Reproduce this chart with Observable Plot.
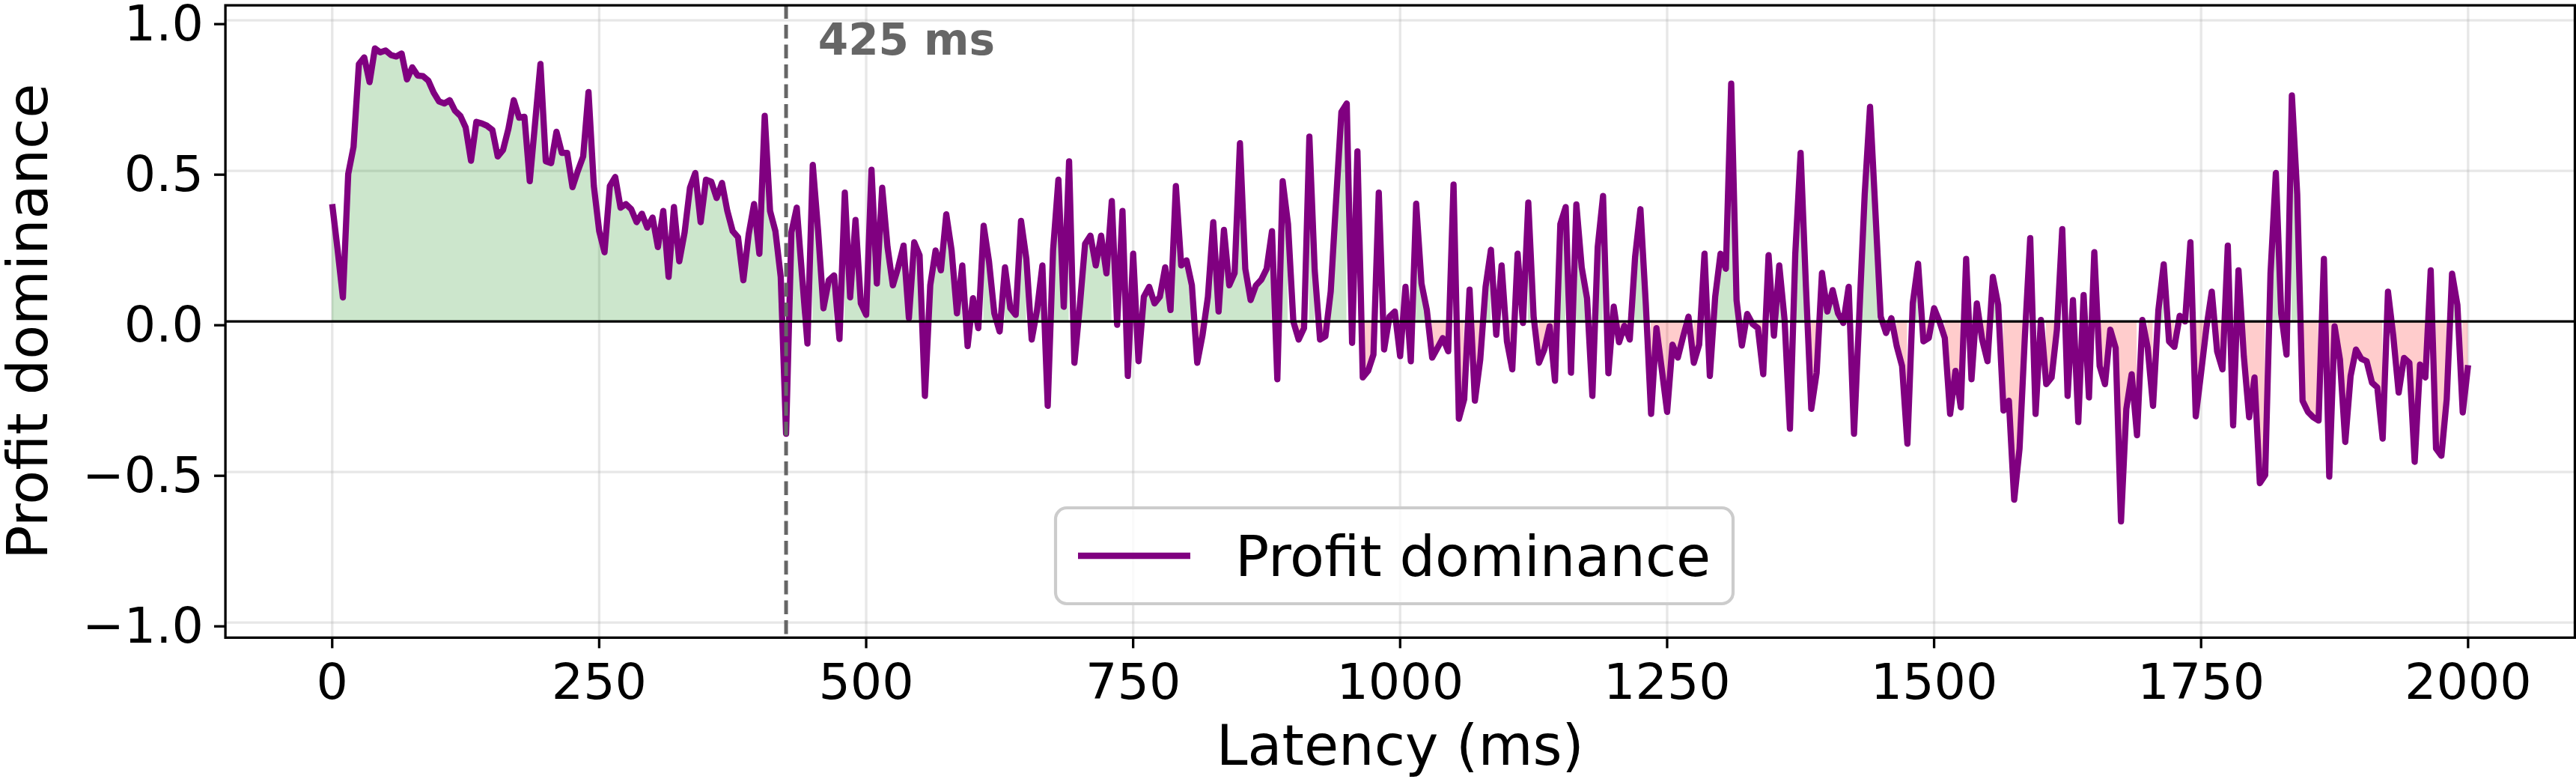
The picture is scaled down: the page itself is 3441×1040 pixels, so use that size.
<!DOCTYPE html>
<html>
<head>
<meta charset="utf-8">
<script src="https://cdn.jsdelivr.net/npm/d3@7"></script>
<script src="https://cdn.jsdelivr.net/npm/@observablehq/plot@0.6"></script>
<style>
  html, body { margin: 0; padding: 0; background: #ffffff; }
  #chart { width: 3441px; height: 1040px; position: relative; }
</style>
</head>
<body>
<div id="chart"></div>
<script>
// ---------------- data ----------------
const latencyStart = 0;
const latencyEnd = 2000;
const latencyStep = 5;
const dominance = [
  0.39, 0.24, 0.08, 0.49, 0.58, 0.855, 0.877, 0.795, 0.907, 0.894,
  0.90, 0.885, 0.88, 0.89, 0.804, 0.844, 0.817, 0.815, 0.80, 0.76,
  0.731, 0.724, 0.735, 0.70, 0.683, 0.644, 0.534, 0.663, 0.658, 0.65,
  0.636, 0.548, 0.57, 0.64, 0.735, 0.677, 0.68, 0.466, 0.66, 0.855,
  0.532, 0.526, 0.63, 0.56, 0.56, 0.446, 0.50, 0.548, 0.762, 0.45,
  0.30, 0.23, 0.45, 0.48, 0.378, 0.39, 0.373, 0.33, 0.358, 0.312,
  0.345, 0.247, 0.367, 0.148, 0.38, 0.20, 0.296, 0.444, 0.493, 0.33,
  0.471, 0.464, 0.41, 0.46, 0.367, 0.30, 0.28, 0.137, 0.29, 0.39,
  0.225, 0.683, 0.367, 0.30, 0.148, -0.373, 0.296, 0.378, 0.15, -0.073,
  0.52, 0.30, 0.044, 0.137, 0.153, -0.058, 0.428, 0.08, 0.337, 0.06,
  0.022, 0.504, 0.126, 0.444, 0.247, 0.12, 0.18, 0.252, 0.011, 0.263,
  0.22, -0.247, 0.12, 0.236, 0.17, 0.356, 0.236, 0.027, 0.186, -0.082,
  0.077, -0.022, 0.318, 0.20, 0.027, -0.033, 0.18, 0.044, 0.022, 0.334,
  0.208, -0.06, 0.038, 0.186, -0.28, 0.236, 0.471, 0.049, 0.532, -0.137,
  0.05, 0.258, 0.285, 0.186, 0.285, 0.16, 0.40, -0.011, 0.367, -0.181,
  0.225, -0.132, 0.082, 0.115, 0.06, 0.082, 0.18, 0.038, 0.45, 0.186,
  0.203, 0.12, -0.137, -0.044, 0.082, 0.33, 0.033, 0.304, 0.12, 0.161,
  0.592, 0.175, 0.071, 0.12, 0.139, 0.175, 0.30, -0.192, 0.466, 0.323,
  0.0, -0.06, -0.022, 0.614, 0.17, -0.06, -0.049, 0.1, 0.4, 0.696,
  0.724, -0.071, 0.565, -0.186, -0.164, -0.11, 0.428, -0.093, 0.016, 0.033,
  -0.115, 0.115, -0.132, 0.391, 0.126, 0.038, -0.12, -0.088, -0.055, -0.099,
  0.455, -0.323, -0.258, 0.106, -0.263, -0.126, 0.115, 0.238, -0.044, 0.186,
  -0.066, -0.159, 0.225, -0.005, 0.395, 0.016, -0.137, -0.093, -0.016, -0.197,
  0.323, 0.38, -0.17, 0.389, 0.18, 0.077, -0.247, 0.247, 0.417, -0.172,
  0.049, -0.069, -0.014, -0.06, 0.214, 0.373, 0.06, -0.307, -0.022, -0.159,
  -0.30, -0.077, -0.12, -0.05, 0.016, -0.137, -0.077, 0.225, -0.181, 0.082,
  0.225, 0.175, 0.79, 0.071, -0.08, 0.025, -0.008, -0.022, -0.175, 0.22,
  -0.047, 0.186, 0.005, -0.356, 0.225, 0.56, 0.115, -0.29, -0.17, 0.161,
  0.033, 0.104, 0.027, -0.005, 0.115, -0.373, 0.027, 0.422, 0.713, 0.367,
  0.016, -0.038, 0.011, -0.082, -0.148, -0.406, 0.06, 0.192, -0.066, -0.055,
  0.044, 0.0, -0.055, -0.307, -0.164, -0.285, 0.208, -0.192, 0.06, -0.06,
  -0.132, 0.148, 0.055, -0.296, -0.263, -0.592, -0.422, -0.049, 0.277, -0.307,
  0.005, -0.208, -0.186, -0.027, 0.307, -0.247, 0.071, -0.334, 0.088, -0.252,
  0.23, -0.148, -0.208, -0.027, -0.088, -0.664, -0.29, -0.175, -0.378, 0.005,
  -0.088, -0.28, 0.038, 0.19, -0.066, -0.084, 0.019, 0.0, 0.263, -0.315,
  -0.17, -0.02, 0.099, -0.099, -0.159, 0.252, -0.345, 0.17, -0.115, -0.318,
  -0.186, -0.537, -0.51, 0.159, 0.493, 0.027, -0.11, 0.751, 0.422, -0.263,
  -0.30, -0.318, -0.329, 0.208, -0.515, -0.016, -0.126, -0.40, -0.181, -0.093,
  -0.124, -0.132, -0.203, -0.219, -0.389, 0.099, -0.05, -0.236, -0.121, -0.137,
  -0.466, -0.143, -0.186, 0.17, -0.422, -0.446, -0.258, 0.159, 0.055, -0.302,
  -0.145
];
const xTicks = [0, 250, 500, 750, 1000, 1250, 1500, 1750, 2000];
const yTicks = [-1.0, -0.5, 0.0, 0.5, 1.0];
const thresholds = [425];
const seriesName = "Profit dominance";
const xLabel = "Latency (ms)";
const yLabel = "Profit dominance";

// ---------------- build table ----------------
const latencies = d3.range(latencyStart, latencyEnd + 1, latencyStep);
const table = latencies.map((ms, i) => ({ latency: ms, value: dominance[i] }));

// ---------------- layout ----------------
const W = 3441, H = 1040;
const mL = 300.6, mR = 2, mT = 6.6, mB = 189.2;
const FS = 66.7;         // tick labels (16pt @300dpi)
const LFS = 75;          // axis labels + legend (18pt @300dpi)
const LW = 8.3;
const AXW = 3.3;
const PURPLE = "#800080";

const chart = Plot.plot({
  width: W,
  height: H,
  marginLeft: mL,
  marginRight: mR,
  marginTop: mT,
  marginBottom: mB,
  style: { fontFamily: "'DejaVu Sans', sans-serif", fontSize: FS + "px", background: "#ffffff", color: "#000000", overflow: "visible" },
  x: { domain: [-100, 2100], label: null },
  y: { domain: [-1.05, 1.05], label: null },
  marks: [
    Plot.gridX(xTicks, { stroke: "#b0b0b0", strokeOpacity: 0.3, strokeWidth: AXW }),
    Plot.gridY(yTicks, { stroke: "#b0b0b0", strokeOpacity: 0.3, strokeWidth: AXW }),
    Plot.areaY(table, { x: "latency", y1: 0, y2: d => d.value > 0 ? d.value : NaN, fill: "green", fillOpacity: 0.2 }),
    Plot.areaY(table, { x: "latency", y1: 0, y2: d => d.value < 0 ? d.value : NaN, fill: "red", fillOpacity: 0.2 }),
    Plot.lineY(table, { x: "latency", y: "value", stroke: PURPLE, strokeWidth: LW, strokeLinejoin: "round", strokeLinecap: "butt" }),
    Plot.ruleY([0], { stroke: "#000000", strokeWidth: AXW }),
    Plot.ruleX(thresholds, { stroke: "#666666", strokeWidth: 5, strokeDasharray: "18.5,8" }),
    Plot.text(thresholds, {
      x: d => d, frameAnchor: "top", text: d => `${d} ms`,
      dx: 42.8, dy: 66, textAnchor: "start", lineAnchor: "bottom",
      fill: "#666666", fontWeight: "bold", fontSize: 58
    }),
    Plot.frame({ stroke: "#000000", strokeWidth: AXW }),
    Plot.axisX(xTicks, { tickSize: 14.6, tickPadding: 20, tickFormat: d3.format("d"), fontSize: FS, strokeWidth: AXW, label: null }),
    Plot.axisY(yTicks, { tickSize: 14.6, tickPadding: 14.6, tickFormat: d3.format(".1f"), fontSize: FS, strokeWidth: AXW, label: null, dy: 5 }),
    Plot.text([xLabel], { frameAnchor: "bottom", dy: 169.2, lineAnchor: "bottom", textAnchor: "middle", fontSize: LFS }),
    Plot.text([yLabel], { frameAnchor: "left", dx: -238.6, rotate: -90, lineAnchor: "bottom", textAnchor: "middle", fontSize: LFS })
  ]
});

document.getElementById("chart").appendChild(chart);

// ---------------- legend (inside the axes, lower center) ----------------
const svg = d3.select(chart);
const lg = svg.append("g").attr("class", "legend");
const box = { x: 1410, y: 678, w: 905, h: 128 };
lg.append("rect")
  .attr("x", box.x).attr("y", box.y).attr("width", box.w).attr("height", box.h)
  .attr("rx", 15).attr("ry", 15)
  .attr("fill", "#ffffff").attr("fill-opacity", 0.8)
  .attr("stroke", "#cccccc").attr("stroke-width", 4.2);
lg.append("line")
  .attr("x1", box.x + 30).attr("x2", box.x + 30 + 150)
  .attr("y1", box.y + 64).attr("y2", box.y + 64)
  .attr("stroke", PURPLE).attr("stroke-width", LW);
lg.append("text")
  .attr("x", box.x + 240).attr("y", box.y + 64 + 27)
  .attr("text-anchor", "start")
  .attr("font-size", LFS).attr("fill", "#000000")
  .attr("font-family", "'DejaVu Sans', sans-serif")
  .text(seriesName);
</script>
</body>
</html>
